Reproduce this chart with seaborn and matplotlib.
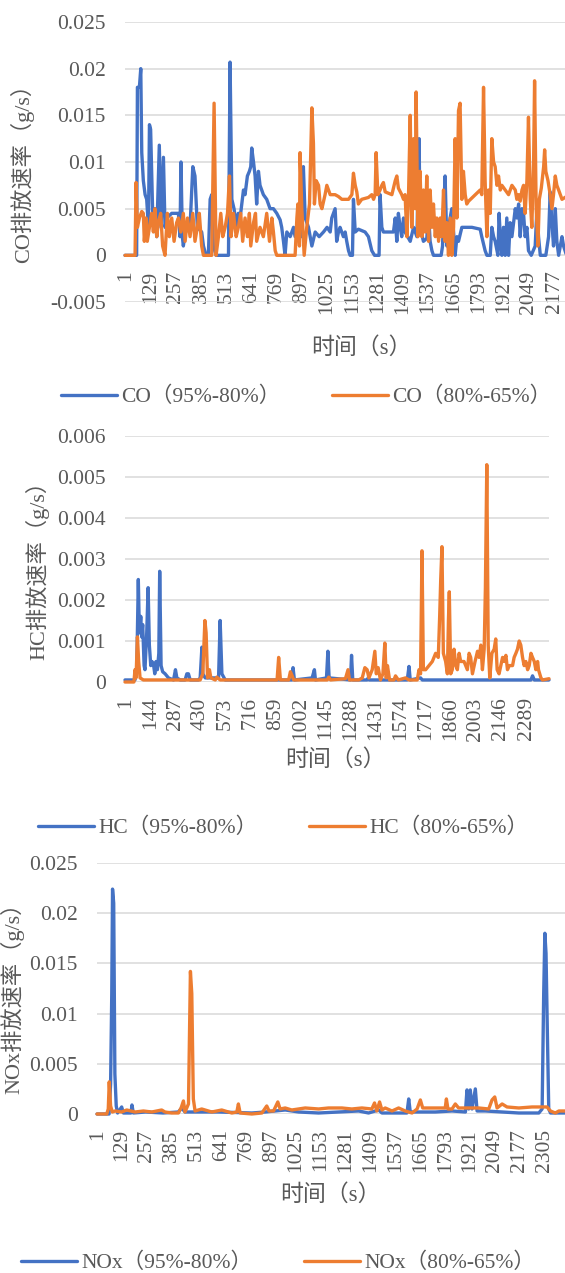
import matplotlib.pyplot as plt
import seaborn as sns

# 排放速率读数：时间（s）与速率（g/s）
co_95_t = [0, 59, 63, 73, 80, 85, 93, 102, 110, 119,
           124, 130, 141, 152, 161, 174, 183, 195, 203, 212,
           237, 271, 279, 284, 291, 296, 313, 330, 344, 355,
           367, 389, 398, 411, 423, 432, 440, 448, 462, 525,
           533, 542, 553, 567, 575, 584, 601, 609, 621, 631,
           638, 643, 652, 660, 668, 677, 685, 702, 719, 736,
           753, 770, 787, 795, 804, 812, 821, 838, 855, 863,
           880, 897, 905, 914, 931, 948, 965, 985, 1007, 1025,
           1041, 1049, 1066, 1074, 1083, 1091, 1108, 1117, 1125, 1134,
           1142, 1154, 1159, 1168, 1184, 1218, 1235, 1252, 1266, 1289,
           1294, 1303, 1311, 1362, 1371, 1379, 1387, 1396, 1404, 1413,
           1421, 1447, 1464, 1481, 1492, 1497, 1514, 1531, 1540, 1548,
           1557, 1565, 1604, 1611, 1616, 1624, 1633, 1641, 1658, 1667,
           1675, 1684, 1692, 1709, 1760, 1802, 1810, 1827, 1836, 1853,
           1861, 1870, 1878, 1892, 1898, 1904, 1912, 1920, 1929, 1937,
           1946, 1954, 1963, 1980, 1988, 1997, 2005, 2014, 2022, 2030,
           2039, 2047, 2061, 2081, 2090, 2098, 2107, 2135, 2149, 2157,
           2166, 2174, 2183, 2191, 2200, 2217, 2225, 2240]
co_95_v = [0, 0, 0.018, 0.018, 0.020, 0.011, 0.008, 0.0065, 0.006, 0.003,
           0.014, 0.0135, 0.004, 0.005, 0.002, 0.0118, 0.003, 0.0105, 0.003, 0.004,
           0.0045, 0.0045, 0.002, 0.010, 0.002, 0.001, 0.0035, 0.003, 0.0095, 0.0085,
           0.003, 0.0025, 0.001, 0, 0, 0.006, 0.0065, 0.001, 0, 0,
           0.0207, 0.006, 0.005, 0.003, 0.0045, 0.004, 0.007, 0.0065, 0.0085, 0.009,
           0.0095, 0.0115, 0.010, 0.0085, 0.0055, 0.009, 0.0075, 0.0065, 0.006, 0.005,
           0.005, 0.0045, 0.0038, 0.003, 0.0015, 0, 0.0025, 0.002, 0.003, 0.002,
           0.0025, 0.002, 0.0095, 0.004, 0.003, 0.001, 0.0025, 0.002, 0.0025, 0.003,
           0.0025, 0.004, 0.005, 0.0015, 0.0025, 0.003, 0.002, 0.0025, 0.0015, 0.0005,
           0, 0, 0.006, 0.0025, 0.0028, 0.0025, 0.002, 0.0005, 0, 0,
           0.0065, 0.003, 0.0025, 0.0025, 0.004, 0.0015, 0.0045, 0.003, 0.002, 0.004,
           0.0025, 0.0015, 0.003, 0.002, 0.0125, 0.003, 0.0015, 0.0018, 0.0045, 0.0015,
           0.0005, 0, 0, 0.001, 0.0045, 0.0085, 0.001, 0.003, 0.005, 0.0025,
           0, 0.002, 0.0015, 0.003, 0.003, 0.0028, 0.002, 0.0005, 0, 0,
           0.003, 0.002, 0.0015, 0, 0.0045, 0.002, 0, 0.003, 0, 0.004,
           0, 0.0035, 0.002, 0.005, 0.004, 0.0055, 0.002, 0.005, 0.0045, 0.002,
           0.003, 0.0005, 0, 0.001, 0.005, 0.002, 0, 0, 0.002, 0.0068,
           0.0035, 0.001, 0.005, 0.0015, 0, 0.002, 0.001, 0]

co_80_t = [0, 51, 56, 63, 73, 85, 93, 98, 107, 113,
           124, 135, 144, 152, 161, 169, 181, 191, 203, 215,
           225, 237, 249, 262, 271, 283, 296, 305, 317, 330,
           344, 355, 367, 377, 389, 398, 440, 452, 462, 474,
           486, 496, 508, 520, 530, 538, 550, 564, 575, 587,
           597, 609, 621, 631, 638, 652, 662, 668, 685, 702,
           719, 733, 745, 753, 762, 770, 863, 872, 877, 885,
           888, 897, 909, 922, 936, 948, 956, 961, 970, 982,
           990, 999, 1015, 1024, 1041, 1066, 1083, 1100, 1134, 1151,
           1159, 1168, 1176, 1184, 1201, 1235, 1252, 1261, 1269, 1274,
           1283, 1294, 1303, 1311, 1320, 1354, 1371, 1379, 1387, 1404,
           1413, 1421, 1430, 1438, 1447, 1455, 1464, 1472, 1477, 1486,
           1492, 1497, 1506, 1514, 1523, 1531, 1540, 1548, 1557, 1565,
           1574, 1582, 1591, 1599, 1607, 1616, 1624, 1633, 1641, 1650,
           1658, 1667, 1675, 1684, 1692, 1700, 1709, 1717, 1726, 1734,
           1743, 1777, 1802, 1810, 1819, 1827, 1836, 1844, 1853, 1861,
           1870, 1878, 1887, 1895, 1904, 1912, 1946, 1963, 1980, 1988,
           1997, 2005, 2014, 2022, 2030, 2039, 2047, 2056, 2064, 2073,
           2078, 2086, 2095, 2102, 2112, 2124, 2129, 2135, 2146, 2157,
           2166, 2174, 2183, 2191, 2200, 2217, 2240]
co_80_v = [0, 0, 0.0078, 0.003, 0.004, 0.0047, 0.0045, 0.0015, 0.004, 0.0015,
           0.003, 0.0045, 0.0025, 0.005, 0.002, 0.0035, 0.0045, 0.001, 0, 0.0045,
           0.002, 0.004, 0.0015, 0.0035, 0.004, 0.0025, 0.0045, 0.0015, 0.004, 0.002,
           0.0045, 0.0015, 0.003, 0.0045, 0.001, 0, 0, 0.0163, 0, 0.002,
           0.0045, 0.002, 0.003, 0.0045, 0.0085, 0.002, 0.0045, 0.002, 0.003, 0.0045,
           0.0015, 0.004, 0.002, 0.0045, 0.001, 0.0035, 0.0045, 0.0015, 0.003, 0.002,
           0.0045, 0.0015, 0.004, 0.0025, 0.0005, 0, 0, 0.004, 0.0055, 0.001,
           0.011, 0.005, 0, 0.003, 0.0055, 0.0158, 0.012, 0.0055, 0.008, 0.0075,
           0.0055, 0.005, 0.0065, 0.0075, 0.0065, 0.0065, 0.0063, 0.006, 0.006, 0.0065,
           0.0088, 0.0075, 0.0068, 0.0055, 0.006, 0.0062, 0.0065, 0.006, 0.0065, 0.011,
           0.0065, 0.007, 0.0075, 0.0078, 0.0068, 0.0065, 0.008, 0.0085, 0.0072, 0.0065,
           0.006, 0.0065, 0.002, 0.006, 0.015, 0.003, 0.0125, 0.005, 0.0175, 0.002,
           0.008, 0.009, 0.002, 0.007, 0.0025, 0.0085, 0.0015, 0.007, 0.003, 0.0055,
           0.002, 0.004, 0.0015, 0.004, 0.002, 0.007, 0.0015, 0.0035, 0, 0.004,
           0, 0.003, 0.0125, 0.004, 0.0155, 0.0163, 0.006, 0.009, 0.0065, 0.0055,
           0.0058, 0.0065, 0.007, 0.0065, 0.018, 0.008, 0.002, 0.007, 0.0045, 0.0125,
           0.01, 0.0095, 0.0075, 0.0085, 0.007, 0.0075, 0.0065, 0.0075, 0.007, 0.006,
           0.0065, 0.0058, 0.007, 0.0075, 0.0045, 0.008, 0.0148, 0.006, 0.003, 0.01,
           0.0187, 0.005, 0.001, 0.006, 0.0072, 0.0095, 0.0113, 0.009, 0.008, 0.0065,
           0.005, 0.0065, 0.0085, 0.0075, 0.007, 0.006, 0.0063]

hc_95_t = [0, 57, 67, 76, 82, 90, 95, 101, 109, 114,
           124, 132, 139, 147, 154, 162, 170, 177, 185, 193,
           198, 206, 215, 229, 248, 277, 288, 296, 315, 343,
           353, 362, 372, 419, 429, 439, 444, 458, 486, 534,
           543, 553, 572, 954, 959, 967, 1068, 1081, 1087, 1150,
           1158, 1165, 1287, 1293, 1300, 1382, 1388, 1394, 1611, 1621,
           1628, 1687, 1697, 2317, 2326, 2336, 2420]
hc_95_v = [0.00005, 0.00005, 0.0003, 0.0025, 0.0012, 0.0016, 0.0011, 0.0014, 0.0004, 0.0003,
           0.0012, 0.0023, 0.0009, 0.0004, 0.0005, 0.00045, 0.0002, 0.0005, 0.0003, 0.0007,
           0.0027, 0.0004, 0.00025, 0.0002, 0.0001, 0.00005, 0.0003, 0.0001, 0.00005, 0.00005,
           0.0002, 0.0002, 0.00005, 0.00005, 0.0001, 0.00085, 0.0002, 0.0001, 0.0001, 0.0001,
           0.0015, 0.0002, 0.00005, 0.00005, 0.00035, 0.00005, 0.0001, 0.0003, 0.00005, 0.0001,
           0.00075, 0.0001, 0.00005, 0.00065, 0.00005, 0.00005, 0.0001, 0.00005, 0.00005, 0.00038,
           0.00005, 0.0001, 0.00005, 0.00005, 0.00015, 0.00005, 0.00005]

hc_80_t = [0, 51, 57, 63, 71, 78, 86, 105, 429, 444,
           456, 463, 471, 482, 490, 515, 524, 543, 868, 877,
           887, 934, 944, 954, 963, 1154, 1163, 1173, 1258, 1273,
           1281, 1334, 1354, 1369, 1382, 1392, 1411, 1426, 1434, 1445,
           1458, 1472, 1483, 1491, 1498, 1510, 1535, 1544, 1560, 1601,
           1621, 1668, 1678, 1687, 1695, 1703, 1716, 1735, 1754, 1773,
           1788, 1796, 1802, 1809, 1817, 1830, 1840, 1846, 1851, 1859,
           1868, 1878, 1888, 1897, 1907, 1916, 1935, 1954, 1964, 1973,
           1983, 1998, 2012, 2021, 2031, 2040, 2050, 2057, 2065, 2073,
           2082, 2094, 2107, 2116, 2124, 2135, 2145, 2155, 2164, 2174,
           2183, 2193, 2212, 2221, 2231, 2240, 2250, 2259, 2269, 2278,
           2288, 2298, 2307, 2317, 2326, 2336, 2345, 2355, 2360, 2374,
           2383, 2420]
hc_80_v = [0, 0, 0.0003, 0.0001, 0.0011, 0.0005, 0.0001, 0.00005, 0.00005, 0.0002,
           0.0015, 0.0012, 0.0001, 0.0003, 0.0001, 0.00005, 0.00012, 0.00005, 0.00005, 0.0006,
           0.00005, 0.00005, 0.00025, 0.00015, 0.00005, 0.00005, 0.00012, 0.00005, 0.00008, 0.0003,
           0.00005, 0.00005, 0.0001, 0.00035, 0.0003, 0.0001, 0.0003, 0.00075, 0.0002, 0.00035,
           0.00005, 0.0002, 0.00095, 0.0001, 0.0004, 0.00005, 0.00005, 0.00015, 0.00005, 0.0001,
           0.00005, 0.00005, 0.0003, 0.0002, 0.0032, 0.0003, 0.0003, 0.0004, 0.0005, 0.0007,
           0.0006, 0.0016, 0.0025, 0.0033, 0.0007, 0.0005, 0.0002, 0.0015, 0.0022, 0.0002,
           0.0003, 0.0008, 0.0004, 0.0003, 0.0007, 0.0005, 0.0005, 0.0003, 0.0007, 0.0006,
           0.0002, 0.0005, 0.00075, 0.0006, 0.0009, 0.0003, 0.0008, 0.0023, 0.0053, 0.0009,
           0.0001, 0.0007, 0.0008, 0.00105, 0.0003, 0.0002, 0.0004, 0.0006, 0.0005, 0.00065,
           0.0003, 0.0004, 0.0004, 0.0006, 0.0007, 0.0008, 0.0010, 0.0009, 0.0006, 0.0004,
           0.0005, 0.0003, 0.0004, 0.0007, 0.0006, 0.0005, 0.0003, 0.0005, 0.0003, 0.0001,
           0.00005, 0.00008]

nox_95_t = [0, 62, 70, 76, 80, 86, 92, 99, 106, 127,
            136, 175, 180, 187, 250, 340, 419, 436, 453, 625,
            797, 866, 969, 1038, 1141, 1347, 1398, 1450, 1467, 1596,
            1605, 1613, 1742, 1828, 1897, 1905, 1914, 1922, 1931, 1948,
            1957, 2000, 2086, 2172, 2275, 2292, 2300, 2306, 2312, 2319,
            2326, 2335, 2420]
nox_95_v = [0, 0, 0.003, 0.012, 0.0224, 0.021, 0.004, 0.0008, 0.0001, 0.0007,
            0.0001, 0.0001, 0.0009, 0.0001, 0.0002, 0.0001, 0.0002, 0.0006, 0.0002, 0.0002,
            0.0001, 0.0002, 0.0004, 0.0002, 0.0001, 0.0003, 0.0001, 0.0004, 0.0001, 0.0001,
            0.0015, 0.0002, 0.0002, 0.0003, 0.0002, 0.0024, 0.0005, 0.0024, 0.0005, 0.0025,
            0.0003, 0.0003, 0.0002, 0.0001, 0.0001, 0.0005, 0.012, 0.018, 0.016, 0.008,
            0.0005, 0.0001, 0.0001]

nox_80_t = [0, 50, 58, 63, 70, 79, 93, 127, 153, 196,
            239, 282, 333, 350, 385, 419, 433, 445, 453, 471,
            481, 488, 496, 505, 539, 591, 642, 694, 720, 728,
            737, 797, 849, 874, 886, 909, 931, 943, 969, 1003,
            1072, 1141, 1192, 1261, 1312, 1364, 1415, 1429, 1441, 1455,
            1467, 1484, 1519, 1553, 1587, 1622, 1648, 1665, 1677, 1707,
            1759, 1793, 1799, 1807, 1828, 1845, 1862, 1914, 1965, 2017,
            2034, 2048, 2060, 2086, 2111, 2172, 2240, 2292, 2317, 2335,
            2360, 2378, 2420]
nox_80_v = [0, 0, 0.0005, 0.0032, 0.0008, 0.0002, 0.0003, 0.0002, 0.0004, 0.0002,
            0.0003, 0.0002, 0.0004, 0.0002, 0.0001, 0.0001, 0.0006, 0.0013, 0.0002, 0.001,
            0.0142, 0.012, 0.0015, 0.0003, 0.0005, 0.0002, 0.0004, 0.0001, 0.0002, 0.001,
            0.0001, 0, 0.0001, 0.0008, 0.0003, 0.0003, 0.0012, 0.0005, 0.0006, 0.0004,
            0.0006, 0.0005, 0.0006, 0.0006, 0.0005, 0.0006, 0.0005, 0.0011, 0.0003, 0.0012,
            0.0004, 0.0006, 0.0003, 0.0006, 0.0003, 0.0001, 0.0005, 0.0014, 0.0006, 0.0006,
            0.0006, 0.0006, 0.0015, 0.0005, 0.0005, 0.001, 0.0006, 0.0006, 0.0006, 0.0005,
            0.0014, 0.0017, 0.0006, 0.001, 0.0007, 0.0006, 0.0007, 0.0007, 0.0007, 0.0003,
            0.0001, 0.0003, 0.0003]

co_yticks = [-0.005, 0, 0.005, 0.01, 0.015, 0.02, 0.025]
co_ylabels = ['-0.005', '0', '0.005', '0.01', '0.015', '0.02', '0.025']
hc_yticks = [0, 0.001, 0.002, 0.003, 0.004, 0.005, 0.006]
hc_ylabels = ['0', '0.001', '0.002', '0.003', '0.004', '0.005', '0.006']
nox_yticks = [0, 0.005, 0.01, 0.015, 0.02, 0.025]
nox_ylabels = ['0', '0.005', '0.01', '0.015', '0.02', '0.025']

N = 2420
W, H = 565, 1273
BLUE, ORANGE = '#4472C4', '#ED7D31'
TXT, GRID = '#595959', '#D9D9D9'

sns.set_theme(style="white")
plt.rcParams['font.family'] = ['Liberation Serif', 'Noto Sans CJK SC']
plt.rcParams['axes.unicode_minus'] = False

fig = plt.figure(figsize=(W / 100, H / 100), dpi=100)


def add_panel(box, t1, v1, t2, v2, yticks, ylabels, xstep, ytitle, ytitle_xy,
              xtitle_xy, names, leg_xy):
    left, top, right, bottom = box
    ax = fig.add_axes([left / W, 1 - bottom / H, (right - left) / W, (bottom - top) / H])
    sns.lineplot(x=t1, y=v1, ax=ax, color=BLUE, lw=2.4, label=names[0], legend=False,
                 estimator=None, clip_on=False, solid_joinstyle='round')
    sns.lineplot(x=t2, y=v2, ax=ax, color=ORANGE, lw=2.4, label=names[1], legend=False,
                 estimator=None, clip_on=False, solid_joinstyle='round')
    ax.set_xlim(0, N)
    ax.set_ylim(yticks[0], yticks[-1])
    ax.set_yticks(yticks, ylabels)
    xt = list(range(1, N + 1, xstep))
    ax.set_xticks(xt, [str(v) for v in xt])
    ax.grid(axis='y', color=GRID, lw=1.1)
    ax.grid(axis='x', visible=False)
    for s in ax.spines.values():
        s.set_visible(False)
    # 横坐标轴与0刻度相交
    ax.spines['bottom'].set_position(('data', 0))
    ax.tick_params(axis='x', labelrotation=90, length=0, pad=11, labelsize=15.5, labelcolor=TXT)
    ax.tick_params(axis='y', length=0, pad=14, labelsize=15.5, labelcolor=TXT)
    ax.set_xlabel('')
    ax.set_ylabel('')
    fig.text(ytitle_xy[0] / W, 1 - ytitle_xy[1] / H, ytitle, rotation=90,
             ha='center', va='center', fontsize=16, color=TXT)
    fig.text(xtitle_xy[0] / W, 1 - xtitle_xy[1] / H, '时间（s）',
             ha='center', va='center', fontsize=16.5, color=TXT)
    handles, labels = ax.get_legend_handles_labels()
    fig.legend(handles, labels, loc='center', bbox_to_anchor=(leg_xy[0] / W, 1 - leg_xy[1] / H),
               ncol=2, frameon=False, fontsize=15.5, labelcolor=TXT, handlelength=2.6,
               handletextpad=0.2, columnspacing=2.4)
    return ax


add_panel((125, 22, 602, 302), co_95_t, co_95_v, co_80_t, co_80_v,
          co_yticks, co_ylabels, 128, 'CO排放速率（g/s）', (22, 168), (361, 348),
          ['CO（95%-80%）', 'CO（80%-65%）'], (306, 397))
add_panel((125, 436, 549, 682), hc_95_t, hc_95_v, hc_80_t, hc_80_v,
          hc_yticks, hc_ylabels, 143, 'HC排放速率（g/s）', (37, 565), (335, 760),
          ['HC（95%-80%）', 'HC（80%-65%）'], (283, 828))
add_panel((97, 863, 567, 1114), nox_95_t, nox_95_v, nox_80_t, nox_80_v,
          nox_yticks, nox_ylabels, 128, 'NOx排放速率（g/s）', (12, 993), (330, 1195),
          ['NOx（95%-80%）', 'NOx（80%-65%）'], (278, 1263))

fig.savefig('out.png', dpi=100, facecolor='white')
